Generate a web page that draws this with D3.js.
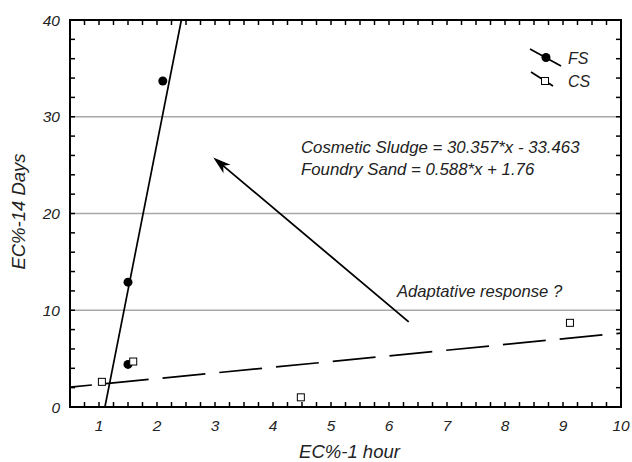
<!DOCTYPE html>
<html>
<head>
<meta charset="utf-8">
<script src="https://cdn.jsdelivr.net/npm/d3@7"></script>
<style>
  body { margin: 0; background: #fff; }
  svg { font-family: "Liberation Sans", Arial, sans-serif; font-style: italic; }
</style>
</head>
<body>
<svg id="chart" width="632" height="462"></svg>
<script>
// data
const fsPoints = [[1.5, 4.4], [1.5, 12.9], [2.1, 33.7]];
const csPoints = [[1.05, 2.6], [1.59, 4.7], [4.48, 1.0], [9.12, 8.7]];
const xTickLabels = [1, 2, 3, 4, 5, 6, 7, 8, 9, 10];
const yTickLabels = [0, 10, 20, 30, 40];
const gridValues = [10, 20, 30];
const fitSolid = [30.357, -33.463];   // slope, intercept
const fitDashed = [0.588, 1.76];
const equations = ["Cosmetic Sludge = 30.357*x - 33.463", "Foundry Sand = 0.588*x + 1.76"];
const arrowFrom = [6.34, 8.8];
const arrowTo = [2.97, 25.8];

const svg = d3.select("#chart");
const plotLeft = 70, plotRight = 621, plotTop = 20, plotBottom = 407;

const x = d3.scaleLinear().domain([0.5, 10]).range([plotLeft, plotRight]);
const y = d3.scaleLinear().domain([0, 40]).range([plotBottom, plotTop]);

// horizontal grid lines
svg.selectAll(".grid")
    .data(gridValues)
    .enter().append("line")
    .attr("x1", plotLeft).attr("x2", plotRight)
    .attr("y1", d => y(d)).attr("y2", d => y(d))
    .attr("stroke", "#a8a8a8")
    .attr("stroke-width", 1.3);

// minor ticks, pointing inward on all four sides
const xMinor = d3.range(0.5, 10.001, 0.25);
const yMinor = d3.range(0, 40.001, 2);
const tickLen = 5;

function tickLine(g, x1, y1, x2, y2) {
    g.append("line").attr("x1", x1).attr("y1", y1).attr("x2", x2).attr("y2", y2)
        .attr("stroke", "#000").attr("stroke-width", 1.5);
}
const ticks = svg.append("g");
xMinor.forEach(v => {
    tickLine(ticks, x(v), plotBottom, x(v), plotBottom - tickLen);
    tickLine(ticks, x(v), plotTop, x(v), plotTop + tickLen);
});
yMinor.forEach(v => {
    tickLine(ticks, plotLeft, y(v), plotLeft + tickLen, y(v));
    tickLine(ticks, plotRight, y(v), plotRight - tickLen, y(v));
});

// frame
svg.append("rect")
    .attr("x", plotLeft).attr("y", plotTop)
    .attr("width", plotRight - plotLeft).attr("height", plotBottom - plotTop)
    .attr("fill", "none")
    .attr("stroke", "#000")
    .attr("stroke-width", 2);

// tick labels
svg.selectAll(".xlab")
    .data(xTickLabels)
    .enter().append("text")
    .attr("x", d => x(d))
    .attr("y", 431)
    .attr("text-anchor", "middle")
    .attr("font-size", 15.5)
    .attr("fill", "#222")
    .text(d => d);

svg.selectAll(".ylab")
    .data(yTickLabels)
    .enter().append("text")
    .attr("x", 60)
    .attr("y", d => y(d) + 5.5)
    .attr("text-anchor", "end")
    .attr("font-size", 15.5)
    .attr("fill", "#222")
    .text(d => d);

// axis titles
svg.append("text")
    .attr("x", (plotLeft + plotRight) / 2 + 4)
    .attr("y", 458)
    .attr("text-anchor", "middle")
    .attr("font-size", 18.5)
    .attr("fill", "#222")
    .text("EC%-1 hour");

svg.append("text")
    .attr("transform", "translate(25," + ((plotTop + plotBottom) / 2 - 2) + ") rotate(-90)")
    .attr("text-anchor", "middle")
    .attr("font-size", 18.5)
    .attr("fill", "#222")
    .text("EC%-14 Days");

// clip for fit lines
svg.append("clipPath").attr("id", "plotClip")
    .append("rect").attr("x", plotLeft).attr("y", plotTop)
    .attr("width", plotRight - plotLeft).attr("height", plotBottom - plotTop);

const line = d3.line().x(d => x(d[0])).y(d => y(d[1]));
const plot = svg.append("g").attr("clip-path", "url(#plotClip)");

// solid fit
const xs0 = (0 - fitSolid[1]) / fitSolid[0];
const xs1 = (40 - fitSolid[1]) / fitSolid[0];
plot.append("path")
    .attr("d", line([[xs0, 0], [xs1, 40]]))
    .attr("fill", "none")
    .attr("stroke", "#000")
    .attr("stroke-width", 1.7);

// dashed fit
plot.append("path")
    .attr("d", line([[0.5, fitDashed[0] * 0.5 + fitDashed[1]], [10, fitDashed[0] * 10 + fitDashed[1]]]))
    .attr("fill", "none")
    .attr("stroke", "#000")
    .attr("stroke-width", 1.7)
    .attr("stroke-dasharray", "43,14")
    .attr("stroke-dashoffset", 21);

// points
svg.selectAll(".fs")
    .data(fsPoints)
    .enter().append("circle")
    .attr("cx", d => x(d[0]))
    .attr("cy", d => y(d[1]))
    .attr("r", 4.5)
    .attr("fill", "#000");

svg.selectAll(".cs")
    .data(csPoints)
    .enter().append("rect")
    .attr("x", d => x(d[0]) - 3.5)
    .attr("y", d => y(d[1]) - 3.5)
    .attr("width", 7)
    .attr("height", 7)
    .attr("fill", "#fff")
    .attr("stroke", "#000")
    .attr("stroke-width", 1);

// equations
svg.selectAll(".eq")
    .data(equations)
    .enter().append("text")
    .attr("x", 301)
    .attr("y", (d, i) => 153 + i * 22)
    .attr("font-size", 16.8)
    .attr("fill", "#222")
    .text(d => d);

svg.append("text")
    .attr("x", 397)
    .attr("y", 297)
    .attr("font-size", 16.6)
    .attr("fill", "#222")
    .text("Adaptative response ?");

// arrow
const ax0 = x(arrowFrom[0]), ay0 = y(arrowFrom[1]);
const ax1 = x(arrowTo[0]), ay1 = y(arrowTo[1]);
const ang = Math.atan2(ay1 - ay0, ax1 - ax0);
svg.append("line")
    .attr("x1", ax0).attr("y1", ay0)
    .attr("x2", ax1 - 10 * Math.cos(ang)).attr("y2", ay1 - 10 * Math.sin(ang))
    .attr("stroke", "#000")
    .attr("stroke-width", 1.8);
svg.append("path")
    .attr("d", "M0,0 L-18,-5.5 L-13,0 L-18,5.5 Z")
    .attr("transform", "translate(" + ax1 + "," + ay1 + ") rotate(" + (ang * 180 / Math.PI) + ")")
    .attr("fill", "#000");

// legend
const legend = svg.append("g");
legend.append("line").attr("x1", 530).attr("y1", 49).attr("x2", 561).attr("y2", 66)
    .attr("stroke", "#000").attr("stroke-width", 1.7);
legend.append("circle").attr("cx", 546).attr("cy", 57.5).attr("r", 4.5).attr("fill", "#000");
legend.append("text").attr("x", 568).attr("y", 64).attr("font-size", 16).attr("fill", "#222").text("FS");

legend.append("line").attr("x1", 531).attr("y1", 72).attr("x2", 553).attr("y2", 86)
    .attr("stroke", "#000").attr("stroke-width", 1.7);
legend.append("rect").attr("x", 541.5).attr("y", 77.5).attr("width", 7).attr("height", 7)
    .attr("fill", "#fff").attr("stroke", "#000").attr("stroke-width", 1);
legend.append("text").attr("x", 568).attr("y", 87).attr("font-size", 16).attr("fill", "#222").text("CS");
</script>
</body>
</html>
